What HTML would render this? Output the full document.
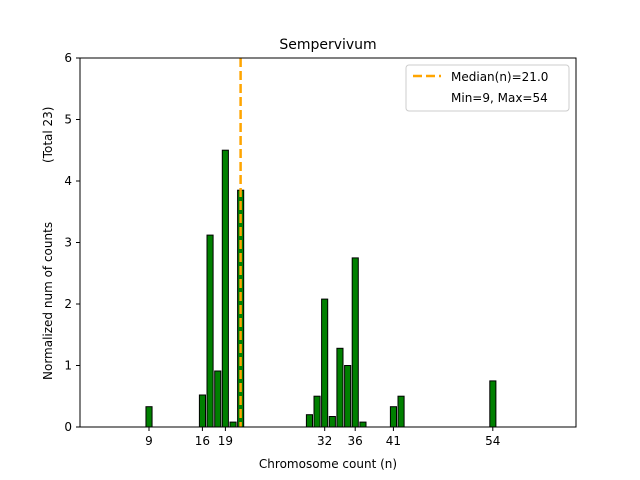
<!DOCTYPE html>
<html><head><style>body{margin:0;background:#fff}svg{display:block}text{font-family:"DejaVu Sans","Liberation Sans",sans-serif;fill:#000}</style></head><body>
<svg width="640" height="480" viewBox="0 0 640 480" xmlns="http://www.w3.org/2000/svg">
<rect width="640" height="480" fill="#fff"/>
<g fill="#008000" stroke="#000" stroke-width="1">
<rect x="145.96" y="406.7" width="6.1" height="20.3"/>
<rect x="199.4" y="395" width="6.1" height="32"/>
<rect x="207.0" y="235.1" width="6.1" height="191.9"/>
<rect x="214.7" y="371" width="6.1" height="56"/>
<rect x="222.3" y="150.2" width="6.1" height="276.8"/>
<rect x="230.0" y="422.1" width="6.1" height="4.9"/>
<rect x="237.6" y="190.2" width="6.1" height="236.8"/>
<rect x="306.4" y="414.7" width="6.1" height="12.3"/>
<rect x="314.0" y="396.2" width="6.1" height="30.8"/>
<rect x="321.6" y="299.1" width="6.1" height="127.9"/>
<rect x="329.3" y="416.5" width="6.1" height="10.5"/>
<rect x="336.9" y="348.3" width="6.1" height="78.7"/>
<rect x="344.6" y="365.5" width="6.1" height="61.5"/>
<rect x="352.2" y="257.9" width="6.1" height="169.1"/>
<rect x="359.9" y="422.1" width="6.1" height="4.9"/>
<rect x="390.4" y="406.7" width="6.1" height="20.3"/>
<rect x="398.0" y="396.2" width="6.1" height="30.8"/>
<rect x="489.8" y="380.9" width="6.1" height="46.1"/>
</g>
<line x1="240.6" y1="58" x2="240.6" y2="427" stroke="#ffa500" stroke-width="2.5" stroke-dasharray="9,4"/>
<rect x="80" y="58" width="496" height="369" fill="none" stroke="#000" stroke-width="1"/>
<g stroke="#000" stroke-width="1">
<line x1="149" y1="427" x2="149" y2="431"/><line x1="202.4" y1="427" x2="202.4" y2="431"/><line x1="225.4" y1="427" x2="225.4" y2="431"/><line x1="324.7" y1="427" x2="324.7" y2="431"/><line x1="355.2" y1="427" x2="355.2" y2="431"/><line x1="393.4" y1="427" x2="393.4" y2="431"/><line x1="492.8" y1="427" x2="492.8" y2="431"/>
<line x1="76" y1="427" x2="80" y2="427"/><line x1="76" y1="365.5" x2="80" y2="365.5"/><line x1="76" y1="304" x2="80" y2="304"/><line x1="76" y1="242.5" x2="80" y2="242.5"/><line x1="76" y1="181" x2="80" y2="181"/><line x1="76" y1="119.5" x2="80" y2="119.5"/><line x1="76" y1="58" x2="80" y2="58"/>
</g>
<g font-size="12" text-anchor="middle">
<text x="149" y="445">9</text><text x="202.4" y="445">16</text><text x="225.4" y="445">19</text><text x="324.7" y="445">32</text><text x="355.2" y="445">36</text><text x="393.4" y="445">41</text><text x="492.8" y="445">54</text>
</g>
<g font-size="12" text-anchor="end">
<text x="72" y="431">0</text><text x="72" y="369.5">1</text><text x="72" y="308">2</text><text x="72" y="246.5">3</text><text x="72" y="185">4</text><text x="72" y="123.5">5</text><text x="72" y="62">6</text>
</g>
<text x="328" y="468" font-size="12" text-anchor="middle">Chromosome count (n)</text>
<text transform="translate(52,380) rotate(-90)" font-size="12">Normalized num of counts</text>
<text transform="translate(52,163) rotate(-90)" font-size="12">(Total 23)</text>
<text x="328" y="49" font-size="14" text-anchor="middle">Sempervivum</text>
<rect x="406" y="65" width="163" height="46" rx="3" fill="#fff" stroke="#ccc" stroke-width="1"/>
<line x1="413" y1="76" x2="441" y2="76" stroke="#ffa500" stroke-width="2.5" stroke-dasharray="9,4"/>
<text x="451" y="81" font-size="12">Median(n)=21.0</text>
<text x="451" y="102" font-size="12">Min=9, Max=54</text>
</svg>
</body></html>
